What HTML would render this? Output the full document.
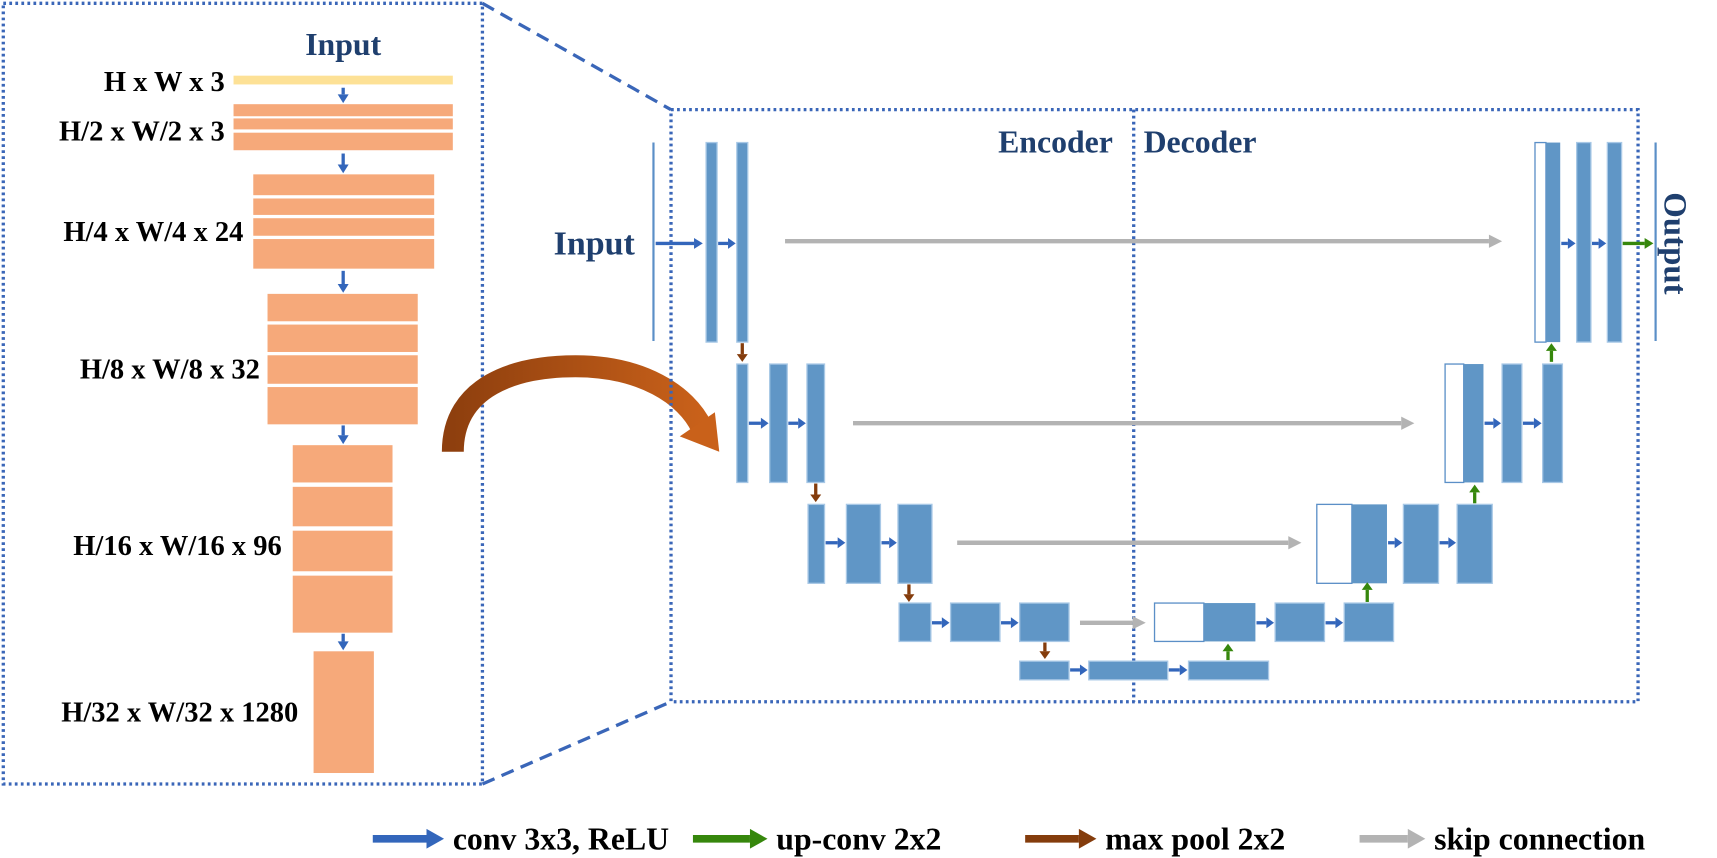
<!DOCTYPE html>
<html><head><meta charset="utf-8"><style>
html,body{margin:0;padding:0;background:#fff;width:1717px;height:858px;overflow:hidden}
svg text{font-family:"Liberation Serif",serif;font-weight:bold}
</style></head><body>
<svg id="s" width="1717" height="858" viewBox="0 0 1566 782.5" xmlns="http://www.w3.org/2000/svg">
<defs>
<linearGradient id="cg" x1="0" x2="1" y1="0" y2="0"><stop offset="0" stop-color="#8e3f0e"/><stop offset="1" stop-color="#c9611a"/></linearGradient>
</defs>
<g id="g"></g>
</svg>
<script>
const svg=document.getElementById('g');
const NS='http://www.w3.org/2000/svg';
function mk(tag,attrs,name){const e=document.createElementNS(NS,tag);for(const k in attrs)e.setAttribute(k,attrs[k]);


svg.appendChild(e);return e;}
function rect(x,y,w,h,fill,stroke,name){return mk('rect',{x:x,y:y,width:w,height:h,fill:fill,stroke:stroke||'none','stroke-width':stroke?1.2:0},name);}
function arrow(x1,y1,x2,y2,col,lw,hl,hw,name){
 const dx=x2-x1,dy=y2-y1,L=Math.hypot(dx,dy),ux=dx/L,uy=dy/L;
 const bx=x2-ux*hl,by=y2-uy*hl;
 mk('line',{x1:x1,y1:y1,x2:bx,y2:by,stroke:col,'stroke-width':lw},name+'-shaft');
 mk('polygon',{points:`${x2},${y2} ${bx-uy*hw/2},${by+ux*hw/2} ${bx+uy*hw/2},${by-ux*hw/2}`,fill:col},name+'-head');}
function text(x,y,s,size,col,anchor,name){const t=mk('text',{x:x,y:y,'font-size':size,fill:col,'text-anchor':anchor||'start'},name);t.textContent=s;return t;}
const BLUE='#3366bb',GREEN='#36870c',BROWN='#843c0c',GRAY='#b3b3b3',NAVY='#1f3f6e',OR='#f6a97a',BB='#6096c6',BS='#a8c8e6';

// ---- left panel
mk('rect',{x:3,y:3,width:437,height:712,fill:'none',stroke:'#3a66b8','stroke-width':3,'stroke-dasharray':'2.5 3'},'encoder-detail-frame');
text(313,50,'Input',29,NAVY,'middle','left-input-title');
text(205,83,'H x W x 3',26,'#000','end','label-input-shape');
rect(213,69,200,8,'#fde196',null,'input-bar');
const stages=[
 {x:213,w:200,rows:[[95,106],[108,118],[121,137]],lab:'H/2 x W/2 x 3',lx:205,ly:128},
 {x:231,w:165,rows:[[159,178],[181,196],[199,215],[218,245]],lab:'H/4 x W/4 x 24',lx:222,ly:220},
 {x:244,w:137,rows:[[268,293],[296,321],[324,350],[353,387]],lab:'H/8 x W/8 x 32',lx:237,ly:345},
 {x:267,w:91,rows:[[406,440],[444,480],[484,521],[525,577]],lab:'H/16 x W/16 x 96',lx:257,ly:506},
 {x:286,w:55,rows:[[594,705]],lab:'H/32 x W/32 x 1280',lx:272,ly:658}];
const arrowYs=[[80,94],[140,158],[247,267],[388,405],[578,593]];
stages.forEach((s,i)=>{s.rows.forEach((r,j)=>rect(s.x,r[0],s.w,r[1]-r[0],OR,null,'stage'+(i+1)+'-layer'+(j+1)));
 text(s.lx,s.ly,s.lab,26,'#000','end','label-stage'+(i+1));
 arrow(313,arrowYs[i][0],313,arrowYs[i][1],BLUE,3,8,10,'stage-arrow-'+(i+1));});

// curved arrow
mk('path',{d:'M413,412 C413,352 470,334 525,334 C585,334 626,360 640,390',fill:'none',stroke:'url(#cg)','stroke-width':20},'curved-arrow');
mk('polygon',{points:'656,412 620,398 652,376',fill:'#c9611a'},'curved-arrow-head');

// dashed connectors
mk('line',{x1:440,y1:3,x2:612,y2:100,stroke:'#3a66b8','stroke-width':3,'stroke-dasharray':'12 7'},'zoom-connector-top');
mk('line',{x1:440,y1:715,x2:612,y2:640,stroke:'#3a66b8','stroke-width':3,'stroke-dasharray':'12 7'},'zoom-connector-bottom');
mk('rect',{x:612,y:100,width:882,height:540,fill:'none',stroke:'#3a66b8','stroke-width':3,'stroke-dasharray':'2.5 3'},'unet-frame');
mk('line',{x1:1034,y1:100,x2:1034,y2:640,stroke:'#3a66b8','stroke-width':3,'stroke-dasharray':'2.5 3'},'encoder-decoder-divider');
text(1015,139,'Encoder',29,NAVY,'end','encoder-title');
text(1043,139,'Decoder',29,NAVY,'start','decoder-title');
text(579,232,'Input',31,NAVY,'end','unet-input-label');
mk('line',{x1:596,y1:130,x2:596,y2:311,stroke:'#5b8fc7','stroke-width':2},'input-plane');
mk('line',{x1:1510,y1:130,x2:1510,y2:311,stroke:'#5b8fc7','stroke-width':2},'output-plane');
const ot=text(0,0,'Output',30,NAVY,'middle','unet-output-label');
ot.setAttribute('transform','translate(1518,222) rotate(90)');

const enc=[
 [130,312,[[644,654],[672,682]],222],
 [332,440,[[672,682],[702,718],[736,752]],386],
 [460,532,[[737,752],[772,803],[819,850]],495],
 [550,585,[[820,849],[867,912],[930,975]],568],
 [603,620,[[930,975],[993,1065],[1084,1157]],611]];
const dec=[
 [130,312,[1400,1410],[[1410,1423],[1438,1451],[1466,1479]],220],
 [332,440,[1318,1335],[[1335,1353],[1370,1388],[1407,1425]],386],
 [460,532,[1201,1233],[[1233,1265],[1280,1312],[1329,1361]],495],
 [550,585,[1053,1098],[[1098,1145],[1163,1208],[1226,1271]],568]];
const skips=[[716,1370],[778,1290],[873,1187],[985,1045]];
const pools=[[677,313,330],[744,441,458],[829,533,549],[953,586,601]];
const ups=[[1120,602,587],[1247,549,531],[1345,459,442],[1415,330,313]];
enc.forEach((l,i)=>{l[2].forEach((b,j)=>{rect(b[0],l[0],b[1]-b[0],l[1]-l[0],BB,BS,'enc-l'+(i+1)+'-block'+(j+1));
 if(j>0)arrow(l[2][j-1][1]+1,l[3],b[0]-1,l[3],BLUE,3,7,10,'enc-l'+(i+1)+'-conv'+j);});});
arrow(598,222,641,222,BLUE,3,8,10,'input-conv');
dec.forEach((l,i)=>{rect(l[2][0],l[0],l[2][1]-l[2][0],l[1]-l[0],'#fff','#5b8fc7','dec-l'+(i+1)+'-copied');
 l[3].forEach((b,j)=>{rect(b[0],l[0],b[1]-b[0],l[1]-l[0],BB,j?BS:null,'dec-l'+(i+1)+'-block'+(j+1));
 if(j>0)arrow(l[3][j-1][1]+1,l[4]+(i==0?2:0),b[0]-1,l[4]+(i==0?2:0),BLUE,3,7,10,'dec-l'+(i+1)+'-conv'+j);});
 arrow(skips[i][0],l[4],skips[i][1],l[4],GRAY,4,12,12,'skip-l'+(i+1));});
pools.forEach((p,i)=>arrow(p[0],p[1],p[0],p[2],BROWN,3,7,10,'maxpool-'+(i+1)));
ups.forEach((p,i)=>arrow(p[0],p[1],p[0],p[2],GREEN,3,7,10,'upconv-'+(i+1)));
arrow(1480,222,1508,222,GREEN,3,8,10,'output-conv');

const leg=[[340,405,BLUE,'conv 3x3, ReLU'],[632,700,GREEN,'up-conv 2x2'],[935,1000,BROWN,'max pool 2x2'],[1240,1300,GRAY,'skip connection']];
leg.forEach((l,i)=>{arrow(l[0],765,l[1],765,l[2],7,16,18,'legend-arrow-'+(i+1));
 text(l[1]+8,775,l[3],29,'#000','start','legend-label-'+(i+1));});
</script>
</body></html>
